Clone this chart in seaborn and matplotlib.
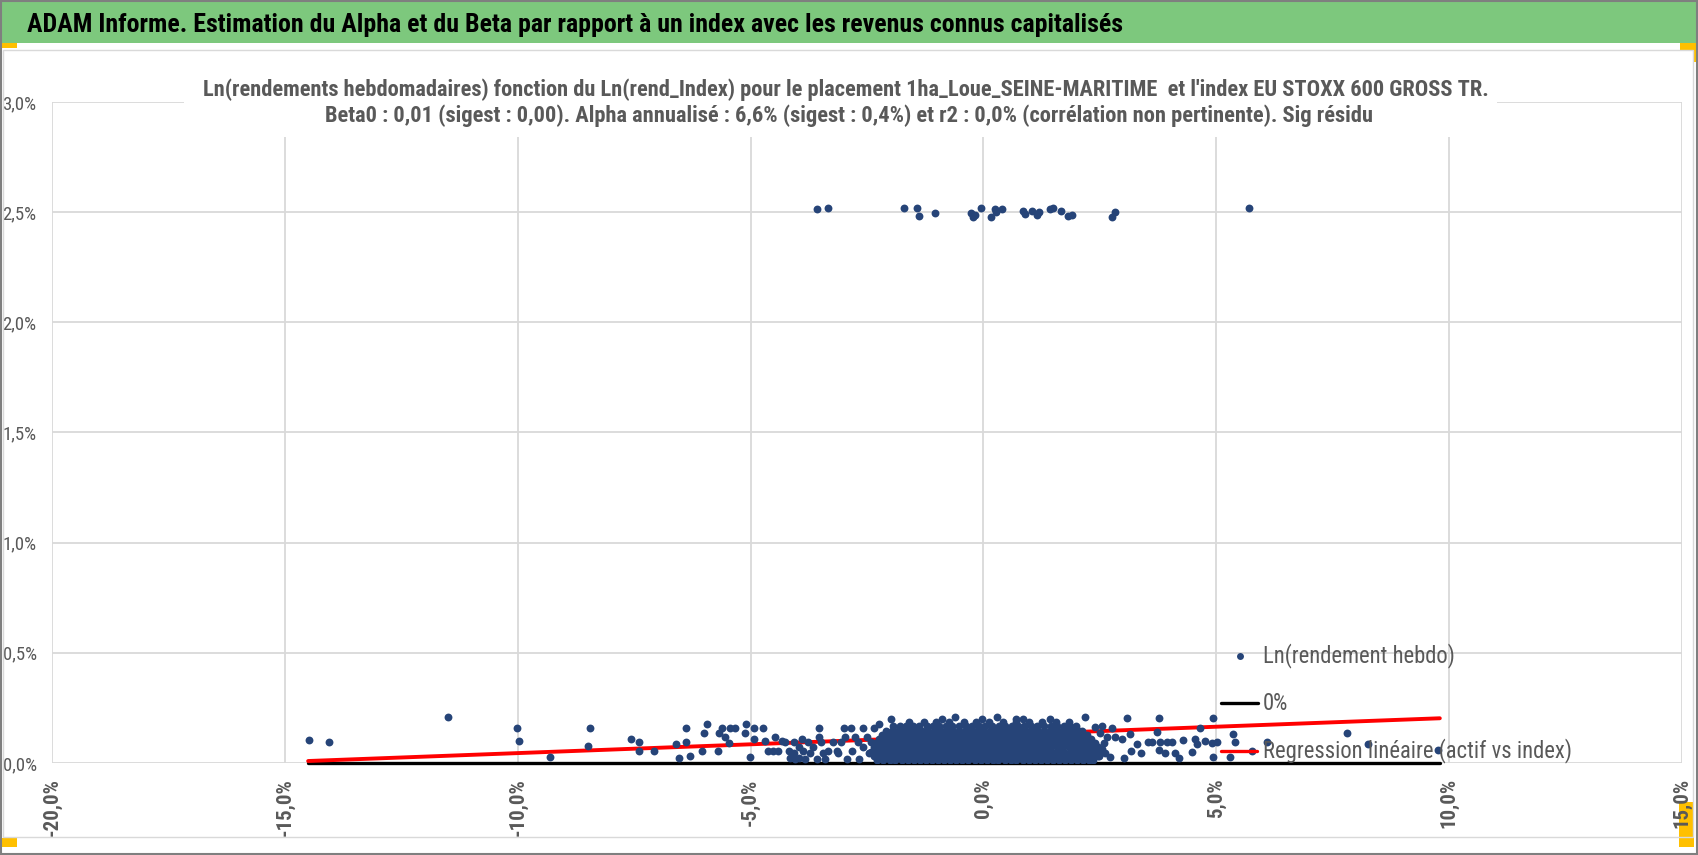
import numpy as np
import pandas as pd
import seaborn as sns
import matplotlib.pyplot as plt
from matplotlib import font_manager
from matplotlib.patches import Rectangle
from matplotlib.lines import Line2D

# ---- data (all values in %) ----
# points around 2.5 %
top_x = [-3.58, -3.34, -1.70, -1.43, -1.39, -1.05, -0.27, -0.23, -0.18, -0.05,
         0.16, 0.25, 0.27, 0.39, 0.84, 0.89, 1.05, 1.14, 1.20, 1.43, 1.50,
         1.67, 1.82, 1.91, 2.77, 2.82, 5.70]
top_y = [2.513, 2.520, 2.520, 2.520, 2.481, 2.495, 2.495, 2.476, 2.487, 2.520,
         2.476, 2.513, 2.500, 2.513, 2.507, 2.490, 2.507, 2.489, 2.500, 2.513, 2.520,
         2.507, 2.481, 2.489, 2.476, 2.502, 2.521]

# scattered points left and right of the dense cloud
side_x = [-14.48, -14.05, -11.50, -10.02, -9.97, -9.31, -8.45, -8.49,
          -7.57, -7.40, -7.40, -7.07, -6.61, -6.54, -6.39, -6.39, -6.30, -6.04,
          -6.01, -5.93, -5.71, -5.67, -5.61, -5.55, -5.46, -5.44, -5.34, -5.13,
          -5.10, -5.01, -4.92, -4.92, -4.73, -4.69, -4.63, -4.52, -4.47, -4.42,
          -4.33, -4.26, -4.17, -4.15, -4.07, -4.06, -4.04, -3.97, -3.96, -3.90,
          -3.87, -3.83, -3.76, -3.73, -3.65, -3.58, -3.53, -3.52, -3.49, -3.44,
          -3.40, -3.33, -3.22, -3.15, -3.12, -3.05, -2.99, -2.98, -2.94, -2.85,
          -2.83, -2.76, -2.69, -2.67, -2.59, -2.58, -2.51, -2.45, -2.42, -2.36,
          -2.31, -2.24, -1.98,
          2.18, 2.54, 2.77, 3.08, 2.83, 2.97, 3.15, 2.72, 3.01, 3.16, 3.29, 3.38,
          3.54, 3.61, 3.72, 3.76, 3.79, 3.77, 3.90, 3.94, 4.04, 4.11, 4.21, 4.28,
          4.47, 4.54, 4.58, 4.64, 4.76, 4.92, 4.90, 4.94, 5.02, 5.30, 5.35, 5.40,
          5.76, 2.50, 2.58, 2.62, 2.40, 2.66, 2.55, 2.48,
          6.09, 7.80, 8.25, 9.77]
side_y = [0.106, 0.094, 0.207, 0.157, 0.100, 0.029, 0.157, 0.076,
          0.107, 0.094, 0.056, 0.056, 0.086, 0.023, 0.157, 0.094, 0.032, 0.056,
          0.137, 0.175, 0.056, 0.137, 0.157, 0.119, 0.092, 0.157, 0.157, 0.137,
          0.175, 0.029, 0.157, 0.107, 0.157, 0.100, 0.056, 0.056, 0.119, 0.056,
          0.100, 0.094, 0.056, 0.024, 0.094, 0.044, 0.020, 0.074, 0.024, 0.107,
          0.056, 0.020, 0.094, 0.044, 0.074, 0.020, 0.157, 0.119, 0.094, 0.044,
          0.020, 0.056, 0.094, 0.056, 0.044, 0.094, 0.157, 0.119, 0.020, 0.157,
          0.056, 0.119, 0.094, 0.020, 0.157, 0.074, 0.119, 0.044, 0.094, 0.157,
          0.074, 0.175, 0.201,
          0.207, 0.168, 0.157, 0.203, 0.119, 0.107, 0.133, 0.029, 0.023, 0.056, 0.085, 0.044,
          0.094, 0.094, 0.142, 0.203, 0.094, 0.060, 0.044, 0.094, 0.094, 0.044, 0.023, 0.104,
          0.050, 0.107, 0.088, 0.157, 0.098, 0.203, 0.091, 0.029, 0.094, 0.029, 0.131, 0.094,
          0.056, 0.135, 0.090, 0.045, 0.165, 0.120, 0.065, 0.030,
          0.097, 0.137, 0.086, 0.058]

# dense cloud around 0 %, one list of x per row of y
cloud_y = [0.014, 0.033, 0.052, 0.071, 0.090, 0.109, 0.128, 0.147, 0.166, 0.185]
cloud_x = [
    [-2.28, -2.15, -2.01, -1.89, -1.75, -1.62, -1.50, -1.36, -1.23, -1.11, -0.97, -0.84,
     -0.72, -0.58, -0.45, -0.33, -0.19, -0.06, 0.07, 0.20, 0.32, 0.46, 0.59, 0.71, 0.85,
     0.97, 1.10, 1.24, 1.36, 1.49, 1.62, 1.75, 1.88, 2.01, 2.13, 2.26, 2.36],
    [-2.34, -2.20, -2.09, -1.94, -1.83, -1.68, -1.57, -1.42, -1.31, -1.16, -1.05, -0.90,
     -0.79, -0.64, -0.53, -0.38, -0.27, -0.12, -0.01, 0.14, 0.25, 0.40, 0.51, 0.66, 0.77,
     0.92, 1.03, 1.18, 1.29, 1.44, 1.55, 1.70, 1.81, 1.96, 2.07, 2.22, 2.33, 2.45],
    [-2.41, -2.27, -2.14, -2.02, -1.88, -1.76, -1.62, -1.49, -1.37, -1.24, -1.10, -0.98,
     -0.85, -0.71, -0.59, -0.46, -0.32, -0.20, -0.07, 0.06, 0.19, 0.31, 0.45, 0.58, 0.70,
     0.84, 0.96, 1.09, 1.23, 1.35, 1.48, 1.61, 1.74, 1.87, 2.00, 2.12, 2.25, 2.38, 2.52],
    [-2.36, -2.23, -2.08, -1.96, -1.81, -1.70, -1.55, -1.44, -1.29, -1.18, -1.03, -0.92,
     -0.77, -0.66, -0.51, -0.40, -0.25, -0.14, 0.01, 0.12, 0.27, 0.38, 0.53, 0.64, 0.79,
     0.90, 1.05, 1.16, 1.31, 1.42, 1.57, 1.68, 1.83, 1.94, 2.09, 2.20, 2.33, 2.45],
    [-2.30, -2.17, -2.03, -1.91, -1.77, -1.65, -1.50, -1.39, -1.24, -1.13, -0.98, -0.87,
     -0.72, -0.61, -0.46, -0.35, -0.20, -0.09, 0.06, 0.17, 0.32, 0.43, 0.58, 0.69, 0.84,
     0.95, 1.10, 1.21, 1.36, 1.47, 1.62, 1.73, 1.88, 1.99, 2.14, 2.26, 2.40],
    [-2.25, -2.12, -1.97, -1.85, -1.70, -1.59, -1.44, -1.32, -1.17, -1.06, -0.91, -0.80,
     -0.65, -0.53, -0.39, -0.27, -0.12, -0.01, 0.13, 0.24, 0.39, 0.50, 0.65, 0.76, 0.91,
     1.02, 1.17, 1.28, 1.43, 1.54, 1.69, 1.80, 1.95, 2.06, 2.19, 2.30],
    [-2.18, -2.05, -1.91, -1.78, -1.64, -1.52, -1.38, -1.25, -1.12, -0.99, -0.85, -0.72,
     -0.59, -0.46, -0.33, -0.20, -0.06, 0.07, 0.19, 0.32, 0.45, 0.58, 0.71, 0.84, 0.97,
     1.10, 1.23, 1.36, 1.49, 1.62, 1.75, 1.88, 2.01, 2.12, 2.22],
    [-2.10, -1.96, -1.84, -1.70, -1.57, -1.45, -1.31, -1.18, -1.05, -0.92, -0.78, -0.66,
     -0.52, -0.40, -0.26, -0.13, 0.00, 0.14, 0.26, 0.39, 0.52, 0.65, 0.78, 0.91, 1.04,
     1.17, 1.30, 1.43, 1.56, 1.69, 1.82, 1.95, 2.05, 2.12],
    [-1.95, -1.80, -1.66, -1.51, -1.38, -1.22, -1.09, -0.95, -0.80, -0.67, -0.52, -0.38,
     -0.24, -0.10, 0.04, 0.19, 0.33, 0.46, 0.61, 0.75, 0.88, 1.03, 1.16, 1.31, 1.45,
     1.58, 1.73, 1.86, 1.98],
    [-1.60, -1.28, -1.02, -0.74, -0.41, -0.16, 0.12, 0.42, 0.70, 0.98, 1.25, 1.55, 1.84],
]
bump_x = [-0.61, 0.29, -0.02, -0.89, 0.70, 0.86, 1.43]
bump_y = [0.210, 0.210, 0.200, 0.200, 0.200, 0.198, 0.200]

# regression line and 0 % line
reg_x = [-14.5, 9.8]
reg_y = [0.009, 0.203]
zero_x = [-14.5, 9.8]
zero_y = [0.0, 0.0]

x_ticks = [-20, -15, -10, -5, 0, 5, 10, 15]
x_labels = ["-20,0%", "-15,0%", "-10,0%", "-5,0%", "0,0%", "5,0%", "10,0%", "15,0%"]
y_ticks = [0, 0.5, 1.0, 1.5, 2.0, 2.5, 3.0]
y_labels = ["0,0%", "0,5%", "1,0%", "1,5%", "2,0%", "2,5%", "3,0%"]

title = "ADAM Informe. Estimation du Alpha et du Beta par rapport à un index avec les revenus connus capitalisés"
sub1 = ("Ln(rendements hebdomadaires) fonction du Ln(rend_Index) pour le placement "
        "1ha_Loue_SEINE-MARITIME  et l'index EU STOXX 600 GROSS TR.")
sub2 = ("Beta0 : 0,01 (sigest : 0,00). Alpha annualisé : 6,6% (sigest : 0,4%) et r2 : 0,0% "
        "(corrélation non pertinente). Sig résidu")
leg_labels = ["Ln(rendement hebdo)", "0%", "Regression linéaire (actif vs index)"]

# ---- build the point table ----
xs = list(top_x) + list(side_x) + list(bump_x)
ys = list(top_y) + list(side_y) + list(bump_y)
for yv, row in zip(cloud_y, cloud_x):
    xs += row
    ys += [yv] * len(row)
pts = pd.DataFrame({"x": xs, "y": ys})

# ---- style ----
sns.set_style("white")
avail = {f.name for f in font_manager.fontManager.ttflist}
base = next((n for n in ["Liberation Sans Narrow", "DejaVu Sans Condensed",
                         "Roboto Condensed", "Liberation Sans"] if n in avail), "DejaVu Sans")
plt.rcParams["font.family"] = [base, "DejaVu Sans"]

W, H = 1698, 855
GREY = "#595959"
BLUE = "#264478"


def fx(x):
    return x / W


def fy(y):
    return 1 - y / H


def rect_px(x0, y0, x1, y1, **kw):
    r = Rectangle((fx(x0), fy(y1)), (x1 - x0) / W, (y1 - y0) / H,
                  transform=fig.transFigure, **kw)
    fig.add_artist(r)
    return r


def fit(t, width_px):
    r = fig.canvas.get_renderer()
    w = t.get_window_extent(r).width
    t.set_fontsize(t.get_fontsize() * width_px / w)


fig = plt.figure(figsize=(W / 100, H / 100), dpi=100)
ax = fig.add_axes([fx(52), fy(763), (1682 - 52) / W, (763 - 102) / H])

sns.lineplot(x=zero_x, y=zero_y, ax=ax, color="black", lw=2.4, zorder=2, clip_on=False)
sns.lineplot(x=reg_x, y=reg_y, ax=ax, color="#FF0000", lw=2.8, zorder=2, clip_on=False)
sns.scatterplot(data=pts, x="x", y="y", ax=ax, color=BLUE, s=32, linewidth=0, zorder=3)

ax.set_xlim(-20, 15)
ax.set_ylim(0, 3)
ax.set_xticks(x_ticks, x_labels)
ax.set_yticks(y_ticks, y_labels)
ax.set_xlabel("")
ax.set_ylabel("")
ax.grid(True, color="#D9D9D9", lw=1.3)
ax.set_axisbelow(True)
for s in ax.spines.values():
    s.set_visible(False)
ax.tick_params(axis="x", length=0, pad=11, labelsize=15, labelcolor=GREY, labelrotation=90)
ax.tick_params(axis="y", length=0, pad=11, labelsize=13.5, labelcolor=GREY)
for lab in ax.get_xticklabels():
    lab.set_fontweight("bold")

# ---- frame, title bar, handles ----
rect_px(1.5, 1.5, 1696.5, 43, facecolor="#7DC87D", edgecolor="none", zorder=1)
rect_px(3, 50, 1693, 837, facecolor="none", edgecolor="#D9D9D9", lw=1, zorder=1)
rect_px(0.75, 0.75, 1697.25, 854.25, facecolor="none", edgecolor="#7F7F7F", lw=1.5, zorder=1)
rect_px(184, 58, 1497, 137, facecolor="white", edgecolor="none", zorder=1)
for box in [(0, 42, 17, 48), (1680, 43, 1696, 50), (1693, 50, 1696, 62),
            (1, 838, 17, 847), (1679, 802, 1694, 847)]:
    rect_px(*box, facecolor="#FFC000", edgecolor="none", zorder=-1)

t = fig.text(fx(27), fy(32), title, ha="left", va="baseline", fontsize=17,
             color="black", weight="bold")
fit(t, 1097)
t1 = fig.text(fx(846), fy(96), sub1, ha="center", va="baseline", fontsize=15,
              color=GREY, weight="bold", zorder=3)
fit(t1, 1289)
t2 = fig.text(fx(849), fy(122), sub2, ha="center", va="baseline", fontsize=15,
              color=GREY, weight="bold", zorder=3)
fit(t2, 1050)

# ---- legend drawn by hand at the Excel position ----
leg_y = [656, 703, 751]
texts = [fig.text(fx(1263), fy(yy), lab, ha="left", va="center", fontsize=15,
                  color=GREY, zorder=6) for yy, lab in zip(leg_y, leg_labels)]
fit(texts[2], 308)
for tt in texts[:2]:
    tt.set_fontsize(texts[2].get_fontsize())
fig.add_artist(Line2D([fx(1240)], [fy(leg_y[0])], transform=fig.transFigure, ls="none",
                      marker="o", ms=5, mew=0, color=BLUE, zorder=6))
fig.add_artist(Line2D([fx(1221), fx(1258)], [fy(leg_y[1])] * 2, transform=fig.transFigure,
                      color="black", lw=2.4, zorder=6))
fig.add_artist(Line2D([fx(1221), fx(1257)], [fy(leg_y[2])] * 2, transform=fig.transFigure,
                      color="#FF0000", lw=2.4, zorder=6))

fig.savefig("out.png", dpi=100)
